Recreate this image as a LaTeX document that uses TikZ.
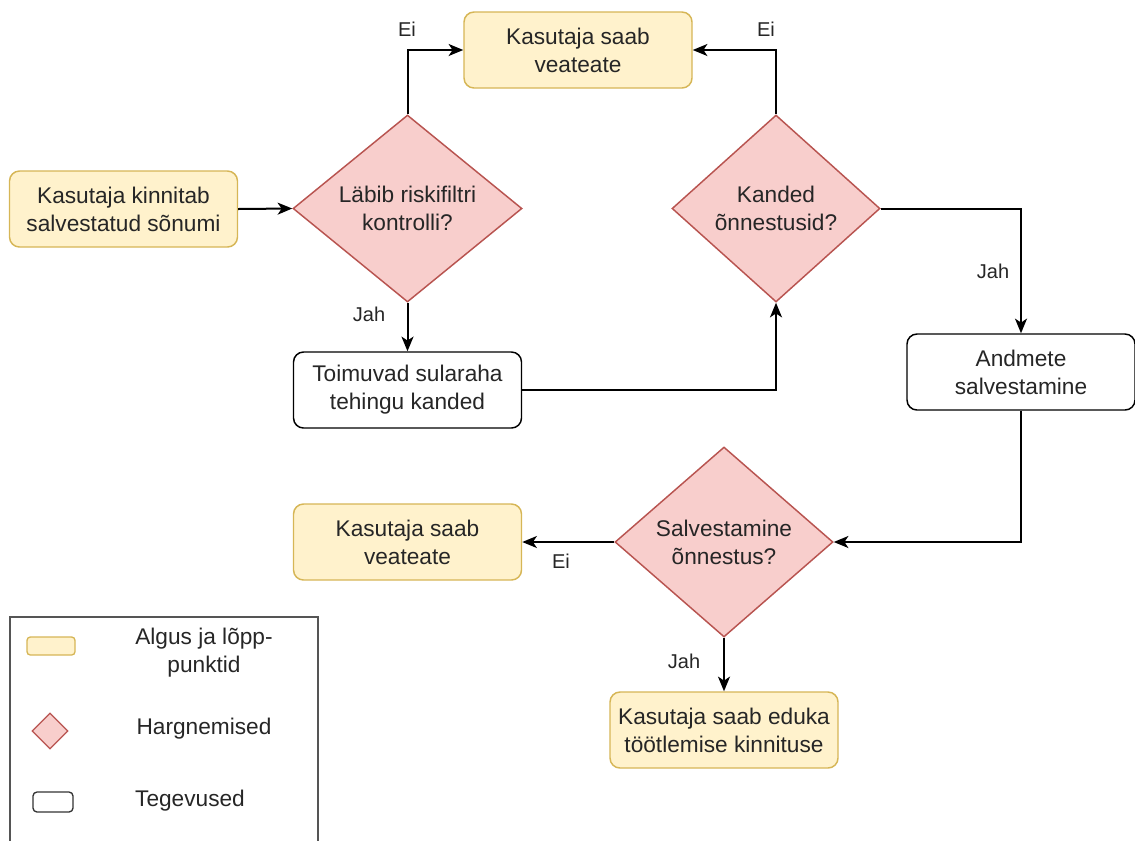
\documentclass[tikz,border=0pt]{standalone}
\usepackage{fontspec}
\setmainfont{Liberation Sans}
\usetikzlibrary{shapes.geometric,arrows.meta}
\definecolor{yfill}{HTML}{FFF2CC}
\definecolor{ydraw}{HTML}{D6B656}
\definecolor{rfill}{HTML}{F8CECC}
\definecolor{rdraw}{HTML}{B85450}
\definecolor{txt}{HTML}{262626}
\definecolor{legdraw}{HTML}{555555}
\tikzset{
  every node/.style={font=\fontsize{17}{21}\selectfont, text=txt},
  endbox/.style={rectangle, rounded corners=7.5pt, draw=ydraw, fill=yfill, line width=1.1pt,
    minimum width=171pt, minimum height=57pt, align=center, inner sep=2pt},
  actbox/.style={rectangle, rounded corners=7.5pt, draw=black, fill=white, line width=1.1pt,
    minimum width=171pt, minimum height=57pt, align=center, inner sep=2pt},
  decis/.style={diamond, draw=rdraw, fill=rfill, line width=1.1pt, align=center, inner sep=0pt},
  edge/.style={draw=black, line width=1.5pt, -{Stealth[length=11pt,width=9pt,inset=3pt]}},
  elabel/.style={font=\fontsize{15}{18}\selectfont, text=txt},
  legtext/.style={align=center}
}
\begin{document}
\begin{tikzpicture}[x=0.75pt,y=-0.75pt]
\useasboundingbox (0,0) rectangle (1135,840);

% nodes
\node[endbox] (start) at (123.5,209) {Kasutaja kinnitab\\salvestatud sõnumi};
\node[decis, minimum width=171.75pt, minimum height=140.25pt] (d1) at (407.5,208.5) {Läbib riskifiltri\\kontrolli?};
\node[endbox] (err1) at (578,50) {Kasutaja saab\\veateate};
\node[decis, minimum width=156pt, minimum height=140.25pt] (d2) at (776,208.5) {Kanded\\õnnestusid?};
\node[actbox] (toim) at (407.5,390) {Toimuvad sularaha\\tehingu kanded};
\node[actbox] (andm) at (1021,372) {Andmete\\salvestamine};
\node[decis, minimum width=163.5pt, minimum height=142.5pt] (d3) at (724,542) {Salvestamine\\õnnestus?};
\node[endbox] (err2) at (407.5,542) {Kasutaja saab\\veateate};
\node[endbox] (fin) at (724,730) {Kasutaja saab eduka\\töötlemise kinnituse};

% edges
\draw[edge] (start.east) -- (d1.west);
\draw[edge] (d1.north) |- (err1.west);
\draw[edge] (d1.south) -- (toim.north);
\draw[edge] (toim.east) -| (d2.south);
\draw[edge] (d2.north) |- (err1.east);
\draw[edge] (d2.east) -| (andm.north);
\draw[edge] (andm.south) |- (d3.east);
\draw[edge] (d3.west) -- (err2.east);
\draw[edge] (d3.south) -- (fin.north);

% edge labels
\node[elabel] (l1) at (407,29) {Ei};
\node[elabel] (l2) at (369,314) {Jah};
\node[elabel] (l3) at (766,29) {Ei};
\node[elabel] (l4) at (993,271) {Jah};
\node[elabel] (l5) at (561,561) {Ei};
\node[elabel] (l6) at (684,661) {Jah};

% legend
\draw[draw=legdraw, line width=1.5pt] (10,850) -- (10,617) -- (318,617) -- (318,850);
\node[rectangle, rounded corners=2.5pt, draw=ydraw, fill=yfill, line width=1pt, minimum width=36pt, minimum height=13.5pt, inner sep=0pt] (lg1) at (51,646) {};
\node[diamond, draw=rdraw, fill=rfill, line width=1pt, minimum width=27pt, minimum height=27pt, inner sep=0pt] (lg2) at (50,731) {};
\node[rectangle, rounded corners=3pt, draw=black!80, fill=white, line width=1pt, minimum width=30pt, minimum height=15pt, inner sep=0pt] (lg3) at (53,802) {};
\node[legtext] (lt1) at (204,653) {Algus ja lõpp-\\punktid};
\node[legtext] (lt2) at (204,729) {Hargnemised};
\node[legtext] (lt3) at (190,801) {Tegevused};
\end{tikzpicture}
\end{document}
